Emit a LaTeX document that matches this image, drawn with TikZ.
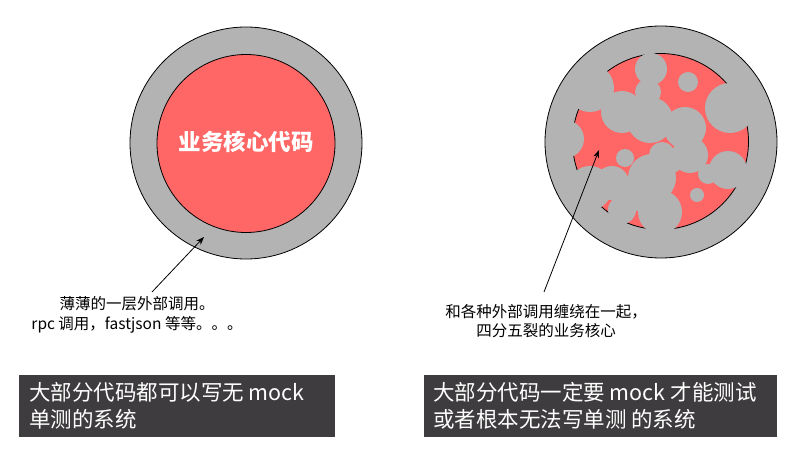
\documentclass[tikz,border=0pt]{standalone}
\usepackage{fontspec}
\setmainfont{Noto Sans CJK SC}
\usetikzlibrary{arrows.meta, positioning}
\definecolor{ringgray}{RGB}{179,179,179}
\definecolor{corered}{RGB}{255,102,102}
\definecolor{boxgray}{RGB}{62,60,62}

\begin{document}
\begin{tikzpicture}[x=1pt, y=-1pt,
    ring/.style={circle, draw=black, fill=ringgray, line width=0.8pt, inner sep=0pt, minimum size=232pt},
    core/.style={circle, draw=black, fill=corered, line width=0.8pt, inner sep=0pt},
    blob/.style={fill=ringgray},
    note/.style={align=center, inner sep=0pt, font=\fontsize{15.5}{19.5}\selectfont},
    darkbox/.style={fill=boxgray, anchor=north west, inner sep=0pt, minimum height=62pt},
    caption/.style={text=white, align=left, anchor=west, inner sep=0pt,
                    font=\fontsize{21.5}{27}\selectfont},
    pointer/.style={-{Stealth[length=8pt, width=6pt]}, line width=0.8pt}]

    \useasboundingbox (0,0) rectangle (798,457);

    % Vòng trái: lớp ngoài mỏng, lõi đỏ ở giữa
    \node[ring] (leftring) at (246,143) {};
    \node[core, minimum size=178pt] (leftcore) at (246,143.5) {};
    \node[text=white, font=\fontsize{22.5}{27}\selectfont\bfseries] (coretext) at (246,142) {业务核心代码};

    % Vòng phải: lõi đỏ bị các khối xám chia cắt
    \node[ring] (rightring) at (661,142) {};
    \node[core, minimum size=176pt] (rightcore) at (660.5,141.5) {};
    \foreach \x/\y/\r in {651/69/16, 648/92/13, 688/82/10, 622/112/21, 590/88/24,
                          565/139/19, 650/120/23, 730/108/25, 685/128/21, 690/155/18,
                          728/170/19, 708/174/10, 652/178/24, 672/163/10, 660/212/22,
                          697/195/7, 625/158/9, 662/155/13, 590/188/22, 612/183/17,
                          622/210/14, 638/195/16}
        \fill[blob] (\x,\y) circle [radius=\r pt];

    % Chú thích và mũi tên
    \node[note] (leftnote) at (137,315) {薄薄的一层外部调用。\\rpc 调用，fastjson 等等。。。};
    \node[note] (rightnote) at (546,321) {和各种外部调用缠绕在一起，\\四分五裂的业务核心};
    \coordinate (lefttail) at (152,292);
    \coordinate (lefttip) at (204,237);
    \coordinate (righttail) at (544,292);
    \coordinate (righttip) at (599,150);
    \draw[pointer] (lefttail) -- (lefttip);
    \draw[pointer] (righttail) -- (righttip);

    % Hai hộp nhãn tối màu ở dưới
    \node[darkbox, minimum width=316pt] (leftbox) at (19,375) {};
    \node[caption] (lefttext) at ([xshift=10pt]leftbox.west) {大部分代码都可以写无 mock\\单测的系统};
    \node[darkbox, minimum width=353pt] (rightbox) at (424,375) {};
    \node[caption] (righttext) at ([xshift=9pt]rightbox.west) {大部分代码一定要 mock 才能测试\\或者根本无法写单测 的系统};
\end{tikzpicture}
\end{document}
